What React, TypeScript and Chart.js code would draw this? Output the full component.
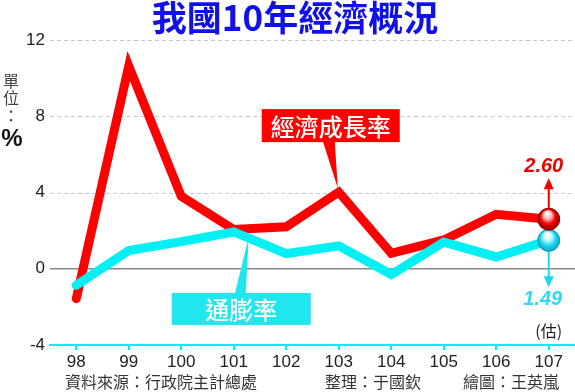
import React, { useEffect, useRef } from 'react';
import { Chart, registerables } from 'chart.js';

Chart.register(...registerables);

const years = ['98', '99', '100', '101', '102', '103', '104', '105', '106', '107'];
const gdpGrowth = [-1.57, 10.63, 3.8, 2.06, 2.2, 4.02, 0.81, 1.51, 2.86, 2.6];
const inflation = [-0.87, 0.96, 1.42, 1.93, 0.79, 1.2, -0.3, 1.4, 0.62, 1.49];
const yTickValues = [-4, 0, 4, 8, 12];
const dashedGridValues = [4, 8, 12];
const titleText = '我國10年經濟概況';
const gdpLabel = '經濟成長率';
const cpiLabel = '通膨率';
const gdpLastText = '2.60';
const cpiLastText = '1.49';
const unitChars = ['單', '位', '：'];
const unitSymbol = '%';
const estimateNote = '(估)';
const sourceNote = '資料來源：行政院主計總處';
const editorNote = '整理：于國欽';
const artistNote = '繪圖：王英嵐';

const RED = '#ff0000';
const CYAN = '#00f0f4';
const CJK = '"Noto Sans CJK TC", "Noto Sans CJK SC", sans-serif';
const NUM = '"Liberation Sans", Arial, sans-serif';

function sphere(ctx: CanvasRenderingContext2D, x: number, y: number, r: number, light: string, base: string, dark: string, edge: string) {
  const g = ctx.createRadialGradient(x - r * 0.15, y - r * 0.55, r * 0.1, x, y, r * 1.05);
  g.addColorStop(0, '#ffffff');
  g.addColorStop(0.3, light);
  g.addColorStop(0.6, base);
  g.addColorStop(1, dark);
  ctx.beginPath();
  ctx.arc(x, y, r, 0, Math.PI * 2);
  ctx.fillStyle = g;
  ctx.fill();
  ctx.lineWidth = 1;
  ctx.strokeStyle = edge;
  ctx.stroke();
}

function arrow(ctx: CanvasRenderingContext2D, x: number, y0: number, y1: number, color: string) {
  const dir = y1 < y0 ? -1 : 1;
  ctx.strokeStyle = color;
  ctx.fillStyle = color;
  ctx.lineWidth = 2;
  ctx.beginPath();
  ctx.moveTo(x, y0);
  ctx.lineTo(x, y1 - dir * 8);
  ctx.stroke();
  ctx.beginPath();
  ctx.moveTo(x, y1);
  ctx.lineTo(x - 5, y1 - dir * 11);
  ctx.lineTo(x + 5, y1 - dir * 11);
  ctx.closePath();
  ctx.fill();
}

const overlay = {
  id: 'overlay',
  beforeDatasetsDraw(chart: any) {
    const { ctx, chartArea } = chart;
    const ys = chart.scales.y;
    ctx.save();
    ctx.setLineDash([4, 3]);
    ctx.strokeStyle = '#c8c8c8';
    ctx.lineWidth = 1;
    for (const v of dashedGridValues) {
      const py = Math.round(ys.getPixelForValue(v)) + 0.5;
      ctx.beginPath();
      ctx.moveTo(chartArea.left, py);
      ctx.lineTo(chartArea.right, py);
      ctx.stroke();
    }
    ctx.setLineDash([]);
    ctx.strokeStyle = '#8a8a8a';
    ctx.lineWidth = 1.5;
    const p0 = ys.getPixelForValue(0);
    ctx.beginPath();
    ctx.moveTo(chartArea.left, p0);
    ctx.lineTo(chartArea.right, p0);
    ctx.stroke();
    ctx.restore();
  },
  afterDatasetsDraw(chart: any) {
    const { ctx, chartArea } = chart;
    const gdpMeta = chart.getDatasetMeta(0);
    const cpiMeta = chart.getDatasetMeta(1);
    ctx.save();

    // red label box
    const rp = gdpMeta.data[5];
    const rbL = rp.x - 77, rbR = rp.x + 61, rbT = rp.y - 83, rbB = rp.y - 50;
    ctx.fillStyle = RED;
    ctx.beginPath();
    ctx.moveTo(rp.x - 16, rbB - 1);
    ctx.lineTo(rp.x - 4, rbB - 1);
    ctx.lineTo(rp.x - 1, rp.y - 4);
    ctx.closePath();
    ctx.fill();
    ctx.fillRect(rbL, rbT, rbR - rbL, rbB - rbT);
    ctx.fillStyle = '#ffffff';
    ctx.font = `500 24px ${CJK}`;
    ctx.textAlign = 'center';
    ctx.textBaseline = 'middle';
    ctx.fillText(gdpLabel, (rbL + rbR) / 2, (rbT + rbB) / 2 + 1);

    // cyan label box
    const cp = cpiMeta.data[3];
    const cbL = cp.x - 62, cbR = cp.x + 77, cbT = cp.y + 61, cbB = cp.y + 93;
    ctx.fillStyle = '#22e6ee';
    ctx.beginPath();
    ctx.moveTo(cp.x + 1, cbT + 1);
    ctx.lineTo(cp.x + 12, cbT + 1);
    ctx.lineTo(cp.x + 15, cp.y + 5);
    ctx.closePath();
    ctx.fill();
    ctx.fillRect(cbL, cbT, cbR - cbL, cbB - cbT);
    ctx.fillStyle = '#ffffff';
    ctx.fillText(cpiLabel, (cbL + cbR) / 2, (cbT + cbB) / 2 + 1);

    // end spheres, arrows and values
    const rl = gdpMeta.data[gdpMeta.data.length - 1];
    const cl = cpiMeta.data[cpiMeta.data.length - 1];
    const r = 11;
    arrow(ctx, cl.x, cl.y + r, cl.y + 47, '#1cd8ee');
    arrow(ctx, rl.x, rl.y - r, rl.y - 41, '#ee0000');
    sphere(ctx, cl.x, cl.y, r, '#c8fbff', '#22dcf0', '#0a9cc0', '#0aa0c0');
    sphere(ctx, rl.x, rl.y, r, '#ffb0b0', '#f00000', '#8a0000', '#900000');

    ctx.font = `italic bold 20px ${NUM}`;
    ctx.textAlign = 'center';
    ctx.textBaseline = 'middle';
    ctx.fillStyle = '#ee0000';
    ctx.fillText(gdpLastText, rl.x - 5, rl.y - 53);
    ctx.fillStyle = '#30d8f0';
    ctx.fillText(cpiLastText, cl.x - 6, cl.y + 59);

    ctx.fillStyle = '#222';
    ctx.font = `16px ${CJK}`;
    ctx.fillText(estimateNote, rl.x, chartArea.bottom - 14);
    ctx.restore();
  },
  afterDraw(chart: any) {
    const { ctx } = chart;
    ctx.save();
    ctx.textAlign = 'center';
    ctx.textBaseline = 'middle';
    ctx.fillStyle = '#1010e8';
    ctx.font = `bold 35px ${CJK}`;
    ctx.fillText(titleText, 295, 18);

    ctx.fillStyle = '#444';
    ctx.font = `16px ${CJK}`;
    const unitY = [81, 98, 116];
    unitChars.forEach((c, i) => ctx.fillText(c, 11, unitY[i]));
    ctx.fillStyle = '#111';
    ctx.font = `bold 24px ${NUM}`;
    ctx.fillText(unitSymbol, 12, 139);

    ctx.fillStyle = '#333';
    ctx.font = `16px ${CJK}`;
    ctx.textAlign = 'left';
    ctx.fillText(sourceNote, 65, 382);
    ctx.fillText(editorNote, 325, 382);
    ctx.fillText(artistNote, 463, 382);
    ctx.restore();
  },
};

export default function App() {
  const ref = useRef<HTMLCanvasElement | null>(null);
  useEffect(() => {
    if (!ref.current) return;
    const chart = new Chart(ref.current, {
      type: 'line',
      data: {
        labels: years,
        datasets: [
          {
            label: gdpLabel,
            data: gdpGrowth,
            borderColor: RED,
            borderWidth: 9,
            pointRadius: 0,
            borderCapStyle: 'round',
            borderJoinStyle: 'miter',
            tension: 0,
            order: 2,
          },
          {
            label: cpiLabel,
            data: inflation,
            borderColor: CYAN,
            borderWidth: 9,
            pointRadius: 0,
            borderCapStyle: 'round',
            borderJoinStyle: 'miter',
            tension: 0,
            order: 1,
          },
        ],
      },
      options: {
        animation: false,
        responsive: false,
        devicePixelRatio: 1,
        layout: { padding: { top: 40, left: 0, right: 0, bottom: 0 } },
        plugins: { legend: { display: false }, tooltip: { enabled: false }, title: { display: false } },
        scales: {
          x: {
            type: 'category',
            offset: true,
            grid: { display: true, drawOnChartArea: false, drawTicks: true, tickLength: 5, color: CYAN, lineWidth: 2 },
            border: { display: true, color: CYAN, width: 2 },
            ticks: { color: '#222', font: { family: NUM, size: 17 }, padding: 2, maxRotation: 0, autoSkip: false },
            afterFit: (s: any) => { s.height = 47; },
          },
          y: {
            min: -4,
            max: 12,
            afterBuildTicks: (s: any) => { s.ticks = yTickValues.map((v) => ({ value: v })); },
            grid: { display: false, drawTicks: false },
            border: { display: false },
            ticks: { color: '#222', font: { family: NUM, size: 17 }, padding: 5 },
            afterFit: (s: any) => { s.width = 50; },
          },
        },
      },
      plugins: [overlay],
    } as any);
    return () => chart.destroy();
  }, []);
  return (
    <div style={{ position: 'fixed', left: 0, top: 0, width: 575, height: 392, background: '#fff' }}>
      <canvas ref={ref} width={575} height={392} style={{ width: 575, height: 392, display: 'block' }} />
    </div>
  );
}
